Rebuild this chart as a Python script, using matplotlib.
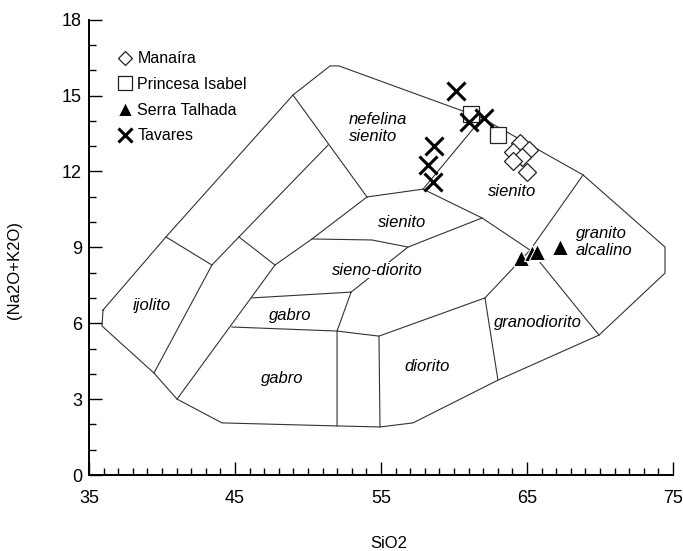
import matplotlib
matplotlib.use("Agg")
import matplotlib.pyplot as plt
from matplotlib.ticker import MultipleLocator

plt.rcParams['font.family'] = ['Liberation Sans', 'DejaVu Sans']

# field vertices (SiO2, Na2O+K2O)
A = (35.96, 6.52); B = (35.89, 5.89); C = (39.45, 4.03); D = (41.03, 3.00)
E = (44.11, 2.06); F = (51.99, 1.94); G = (54.93, 1.90); H = (57.19, 2.06)
I = (63.01, 3.75); J = (69.93, 5.53); K = (74.45, 7.98); L = (74.45, 9.01)
M = (68.84, 11.86); N = (61.92, 14.11); P2 = (52.12, 16.17); P1 = (51.51, 16.17)
Q = (48.97, 15.02); R = (40.27, 9.41)
Y1 = (43.42, 8.30); W1 = (45.27, 9.41); Z1 = (51.37, 13.04); X1 = (47.74, 8.30)
S1 = (54.04, 10.99); S2 = (57.88, 11.30); S3 = (50.27, 9.33); S4 = (54.38, 9.29)
S5 = (56.85, 9.01); U = (61.92, 10.16); T = (65.21, 8.89); S6 = (52.95, 7.23)
S7 = (51.99, 5.69); S8 = (54.86, 5.49); S9 = (62.12, 7.00)
V = (46.16, 7.00); W = (44.79, 5.85)

outline = [A, R, Q, P1, P2, N, M, L, K, J, I, H, G, F, E, D, C, B, A]
inner_lines = [
    [R, Y1, C], [Y1, W1, Z1], [W1, X1], [Q, S1], [S1, S3, X1, D],
    [V, S6], [W, S7], [S6, S7, F], [S7, S8, G], [S8, S9, I],
    [S9, T, M], [T, J], [S2, U, T], [S5, U], [S1, S2, N], [S3, S4, S5, S6],
]

field_names = ['ijolito', 'gabro', 'gabro', 'diorito', 'granodiorito',
               'sieno-diorito', 'sienito', 'sienito']
field_x = [39.32, 48.77, 48.22, 58.15, 65.75, 54.73, 56.44, 63.97]
field_y = [6.72, 6.32, 3.83, 4.27, 6.01, 8.10, 10.00, 11.19]

# samples
manaira_x = [64.52, 65.14, 64.04, 64.66, 64.04, 65.00]
manaira_y = [13.12, 12.85, 12.77, 12.57, 12.41, 11.98]
princesa_x = [61.16, 63.01]
princesa_y = [14.27, 13.44]
serra_x = [64.59, 65.34, 65.68, 67.26]
serra_y = [8.58, 8.77, 8.81, 9.01]
tavares_x = [60.14, 61.03, 62.05, 58.63, 58.22, 58.56]
tavares_y = [15.18, 13.95, 14.11, 13.00, 12.25, 11.58]

x_ticks = [35, 45, 55, 65, 75]
y_ticks = [0, 3, 6, 9, 12, 15, 18]

fig = plt.figure(figsize=(6.83, 5.51), dpi=100)
ax = fig.add_axes([0.1303, 0.1379, 0.8551, 0.8265])

lc = '#333333'
ax.plot([p[0] for p in outline], [p[1] for p in outline], color=lc, lw=0.8, zorder=1)
for seg in inner_lines:
    ax.plot([p[0] for p in seg], [p[1] for p in seg], color=lc, lw=0.8, zorder=1)

for name, x, y in zip(field_names, field_x, field_y):
    if name == 'sieno-diorito':
        ax.text(x, y, name, style='italic', fontsize=12, ha='center', va='center',
                bbox=dict(facecolor='white', edgecolor='none', pad=0.5), zorder=2)
    else:
        ax.text(x, y, name, style='italic', fontsize=12, ha='center', va='center', zorder=2)
ax.text(52.81, 13.72, 'nefelina\nsienito', style='italic', fontsize=12,
        ha='left', va='center', linespacing=1.15)
ax.text(68.36, 9.21, 'granito\nalcalino', style='italic', fontsize=12,
        ha='left', va='center', linespacing=1.15)

ax.plot(manaira_x, manaira_y, 'D', ms=9.5, mfc='white', mec='#222222', mew=0.9,
        ls='none', label='Manaíra', zorder=3)
ax.plot(princesa_x, princesa_y, 's', ms=12, mfc='white', mec='#222222', mew=0.9,
        ls='none', label='Princesa Isabel', zorder=3)
ax.plot(serra_x, serra_y, '^', ms=12, mfc='black', mec='white', mew=0.8,
        ls='none', label='Serra Talhada', zorder=3)
ax.plot(tavares_x, tavares_y, 'x', ms=13, color='black', mew=2.2,
        ls='none', label='Tavares', zorder=4)

leg = ax.legend(loc='upper left', bbox_to_anchor=(0.05, 0.93), frameon=False,
                fontsize=11.5, markerscale=0.8, handlelength=0.8, handletextpad=0.4,
                labelspacing=0.66, borderaxespad=0, borderpad=0)

ax.set_xlim(35, 75)
ax.set_ylim(0, 18)
ax.set_xticks(x_ticks)
ax.set_yticks(y_ticks)
ax.xaxis.set_minor_locator(MultipleLocator(1))
ax.yaxis.set_minor_locator(MultipleLocator(1))
ax.tick_params(which='both', direction='in', width=1, labelsize=13)
ax.tick_params(axis='x', which='major', length=9.5, pad=11)
ax.tick_params(axis='x', which='minor', length=5)
ax.tick_params(axis='y', which='major', length=9.5, pad=5)
ax.tick_params(axis='y', which='minor', length=5)
for s in ['top', 'right']:
    ax.spines[s].set_visible(False)
for s in ['left', 'bottom']:
    ax.spines[s].set_linewidth(1.4)

ax.set_xlabel('SiO2', fontsize=12, va='center')
ax.set_ylabel('(Na2O+K2O)', fontsize=12)
ax.xaxis.set_label_coords(0.514, -0.1505)
ax.yaxis.set_label_coords(-0.115, 0.45)

fig.savefig('out.png', dpi=100)
